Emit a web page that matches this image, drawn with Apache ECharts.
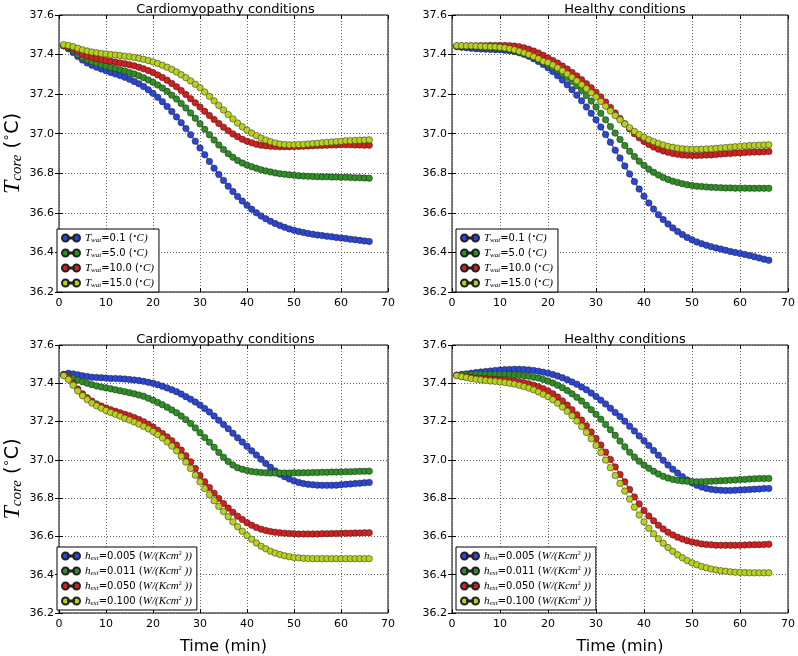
<!DOCTYPE html>
<html><head><meta charset="utf-8">
<script src="https://cdn.jsdelivr.net/npm/echarts@6/dist/echarts.min.js"></script>
<style>html,body{margin:0;padding:0;background:#fff}#c{width:798px;height:656px}</style>
</head><body><div id="c"></div>
<script>
// time (min)
const time = [1,2,3,4,5,6,7,8,9,10,11,12,13,14,15,16,17,18,19,20,21,22,23,24,25,26,27,28,29,30,31,32,33,34,35,36,37,38,39,40,41,42,43,44,45,46,47,48,49,50,51,52,53,54,55,56,57,58,59,60,61,62,63,64,65,66];

const titles = ['Cardiomyopathy conditions','Healthy conditions','Cardiomyopathy conditions','Healthy conditions'];
const twatLabels = ['0.1','5.0','10.0','15.0'];
const hextLabels = ['0.005','0.011','0.050','0.100'];
const xTicks = [0,10,20,30,40,50,60,70];
const yTicks = [36.2,36.4,36.6,36.8,37.0,37.2,37.4,37.6];

// Top-left: Cardiomyopathy, varying T_wat
const cardWat01 = [37.445,37.43,37.41,37.39,37.372,37.358,37.346,37.336,37.327,37.318,37.31,37.302,37.294,37.285,37.275,37.264,37.252,37.238,37.222,37.204,37.184,37.162,37.138,37.112,37.085,37.056,37.026,36.995,36.962,36.928,36.894,36.86,36.826,36.794,36.764,36.735,36.708,36.683,36.66,36.638,36.618,36.6,36.584,36.57,36.557,36.546,36.536,36.527,36.519,36.512,36.506,36.501,36.496,36.492,36.488,36.485,36.482,36.479,36.476,36.473,36.47,36.467,36.464,36.461,36.458,36.455];
const cardWat5 = [37.445,37.435,37.42,37.40,37.385,37.374,37.364,37.356,37.348,37.341,37.335,37.329,37.323,37.317,37.31,37.302,37.293,37.283,37.272,37.26,37.246,37.231,37.214,37.195,37.175,37.153,37.13,37.105,37.078,37.05,37.022,36.995,36.968,36.943,36.92,36.899,36.881,36.865,36.852,36.842,36.833,36.825,36.818,36.812,36.807,36.802,36.798,36.795,36.792,36.79,36.788,36.786,36.785,36.784,36.783,36.782,36.782,36.781,36.781,36.78,36.78,36.779,36.778,36.777,36.776,36.775];
const cardWat10 = [37.445,37.44,37.43,37.415,37.402,37.393,37.386,37.38,37.375,37.37,37.366,37.362,37.358,37.354,37.349,37.343,37.336,37.328,37.319,37.309,37.297,37.284,37.27,37.254,37.237,37.218,37.198,37.177,37.156,37.135,37.113,37.092,37.072,37.052,37.033,37.015,36.999,36.985,36.972,36.962,36.954,36.947,36.942,36.939,36.937,36.935,36.934,36.934,36.934,36.935,36.936,36.937,36.938,36.939,36.94,36.941,36.942,36.943,36.943,36.944,36.944,36.944,36.943,36.943,36.942,36.942];
const cardWat15 = [37.45,37.446,37.44,37.432,37.424,37.418,37.413,37.409,37.406,37.403,37.4,37.398,37.395,37.392,37.389,37.385,37.381,37.376,37.37,37.363,37.355,37.346,37.336,37.325,37.312,37.298,37.283,37.267,37.25,37.232,37.211,37.189,37.166,37.143,37.12,37.097,37.075,37.054,37.035,37.018,37.003,36.99,36.978,36.968,36.96,36.953,36.948,36.945,36.944,36.944,36.945,36.946,36.948,36.95,36.952,36.954,36.956,36.958,36.96,36.962,36.964,36.965,36.966,36.967,36.968,36.969];

// Top-right: Healthy, varying T_wat
const healWat01 = [37.44,37.437,37.435,37.432,37.43,37.428,37.427,37.426,37.425,37.424,37.422,37.419,37.415,37.409,37.401,37.391,37.379,37.365,37.35,37.333,37.314,37.293,37.271,37.247,37.222,37.195,37.166,37.135,37.103,37.07,37.034,36.996,36.957,36.917,36.877,36.837,36.797,36.758,36.72,36.684,36.65,36.619,36.591,36.566,36.544,36.524,36.506,36.49,36.476,36.464,36.453,36.444,36.436,36.429,36.423,36.417,36.411,36.405,36.4,36.395,36.39,36.384,36.378,36.372,36.366,36.36];
const healWat5 = [37.442,37.441,37.44,37.439,37.438,37.437,37.436,37.435,37.434,37.432,37.429,37.425,37.42,37.413,37.405,37.396,37.386,37.375,37.363,37.35,37.336,37.321,37.304,37.285,37.265,37.243,37.219,37.193,37.165,37.135,37.103,37.07,37.036,37.003,36.971,36.94,36.911,36.885,36.861,36.84,36.821,36.805,36.791,36.779,36.769,36.76,36.753,36.747,36.742,36.738,36.735,36.733,36.731,36.729,36.728,36.727,36.726,36.726,36.725,36.725,36.725,36.724,36.724,36.724,36.724,36.724];
const healWat10 = [37.442,37.443,37.443,37.444,37.444,37.445,37.445,37.446,37.446,37.446,37.446,37.445,37.443,37.439,37.434,37.427,37.418,37.408,37.396,37.383,37.37,37.357,37.342,37.327,37.31,37.292,37.273,37.253,37.232,37.21,37.186,37.16,37.133,37.105,37.077,37.05,37.024,37.0,36.979,36.961,36.946,36.933,36.922,36.913,36.906,36.9,36.896,36.893,36.891,36.89,36.89,36.891,36.892,36.893,36.895,36.897,36.899,36.9,36.902,36.903,36.905,36.906,36.907,36.908,36.909,36.91];
const healWat15 = [37.445,37.445,37.444,37.444,37.443,37.442,37.441,37.44,37.439,37.437,37.434,37.43,37.424,37.417,37.409,37.4,37.39,37.379,37.366,37.36,37.347,37.333,37.318,37.302,37.285,37.267,37.248,37.228,37.207,37.186,37.163,37.139,37.115,37.092,37.07,37.049,37.03,37.012,36.996,36.982,36.97,36.96,36.951,36.943,36.936,36.931,36.927,36.924,36.922,36.921,36.921,36.922,36.923,36.924,36.926,36.928,36.93,36.932,36.934,36.936,36.938,36.94,36.941,36.942,36.943,36.944];

// Bottom-left: Cardiomyopathy, varying h_ext
const cardH005 = [37.447,37.452,37.449,37.444,37.439,37.436,37.432,37.43,37.429,37.427,37.425,37.425,37.424,37.422,37.42,37.417,37.414,37.41,37.405,37.40,37.393,37.385,37.376,37.366,37.356,37.344,37.33,37.317,37.302,37.286,37.268,37.25,37.229,37.207,37.185,37.163,37.139,37.115,37.093,37.071,37.047,37.025,37.003,36.981,36.961,36.942,36.925,36.912,36.9,36.89,36.882,36.876,36.872,36.87,36.868,36.867,36.867,36.867,36.868,36.87,36.872,36.874,36.876,36.878,36.88,36.882];
const cardH011 = [37.444,37.437,37.427,37.417,37.408,37.40,37.393,37.386,37.381,37.376,37.371,37.366,37.361,37.356,37.351,37.345,37.339,37.332,37.322,37.311,37.3,37.288,37.275,37.261,37.246,37.229,37.21,37.19,37.167,37.142,37.117,37.092,37.066,37.039,37.014,36.992,36.973,36.959,36.951,36.944,36.939,36.936,36.934,36.932,36.931,36.931,36.931,36.931,36.931,36.932,36.932,36.933,36.933,36.934,36.934,36.935,36.935,36.936,36.936,36.937,36.938,36.938,36.939,36.94,36.94,36.941];
const cardH050 = [37.443,37.43,37.40,37.37,37.345,37.325,37.307,37.292,37.281,37.271,37.262,37.254,37.246,37.238,37.23,37.221,37.211,37.199,37.186,37.171,37.155,37.138,37.12,37.10,37.077,37.051,37.022,36.99,36.955,36.918,36.885,36.855,36.826,36.798,36.772,36.748,36.726,36.706,36.688,36.672,36.658,36.647,36.638,36.631,36.626,36.622,36.619,36.617,36.615,36.614,36.613,36.613,36.613,36.613,36.613,36.614,36.614,36.615,36.615,36.616,36.617,36.617,36.618,36.618,36.619,36.619];
const cardH100 = [37.44,37.42,37.39,37.36,37.335,37.315,37.297,37.282,37.27,37.258,37.248,37.238,37.228,37.218,37.208,37.198,37.187,37.175,37.162,37.148,37.132,37.114,37.094,37.072,37.047,37.019,36.988,36.955,36.92,36.885,36.85,36.817,36.786,36.757,36.73,36.703,36.676,36.651,36.627,36.605,36.585,36.566,36.549,36.535,36.523,36.513,36.505,36.499,36.494,36.49,36.488,36.486,36.485,36.484,36.484,36.484,36.484,36.484,36.484,36.484,36.484,36.484,36.484,36.484,36.484,36.484];

// Bottom-right: Healthy, varying h_ext
const healH005 = [37.442,37.446,37.449,37.453,37.456,37.459,37.462,37.464,37.467,37.469,37.471,37.472,37.473,37.473,37.472,37.47,37.467,37.463,37.458,37.453,37.446,37.438,37.429,37.419,37.407,37.395,37.381,37.366,37.349,37.331,37.312,37.292,37.27,37.248,37.226,37.202,37.176,37.151,37.125,37.10,37.075,37.049,37.024,36.998,36.973,36.951,36.931,36.912,36.895,36.88,36.867,36.858,36.851,36.846,36.843,36.841,36.84,36.84,36.841,36.842,36.844,36.845,36.847,36.848,36.85,36.851];
const healH011 = [37.442,37.445,37.446,37.446,37.447,37.447,37.447,37.447,37.447,37.447,37.447,37.446,37.445,37.443,37.44,37.437,37.432,37.427,37.42,37.412,37.402,37.39,37.377,37.362,37.345,37.327,37.307,37.285,37.262,37.238,37.212,37.185,37.157,37.128,37.098,37.068,37.04,37.015,36.993,36.973,36.956,36.94,36.926,36.914,36.905,36.898,36.893,36.89,36.888,36.887,36.886,36.886,36.887,36.888,36.889,36.891,36.892,36.894,36.895,36.897,36.898,36.9,36.901,36.902,36.902,36.903];
const healH050 = [37.442,37.437,37.434,37.431,37.427,37.425,37.424,37.422,37.42,37.419,37.417,37.415,37.412,37.408,37.403,37.397,37.39,37.382,37.372,37.36,37.345,37.328,37.308,37.286,37.262,37.236,37.208,37.178,37.146,37.112,37.077,37.04,37.002,36.963,36.924,36.885,36.845,36.806,36.77,36.736,36.707,36.682,36.659,36.639,36.622,36.608,36.596,36.586,36.578,36.571,36.566,36.561,36.558,36.556,36.554,36.554,36.554,36.554,36.554,36.554,36.555,36.556,36.557,36.557,36.558,36.559];
const healH100 = [37.44,37.435,37.43,37.425,37.421,37.418,37.415,37.412,37.41,37.407,37.404,37.40,37.396,37.39,37.383,37.375,37.366,37.355,37.343,37.33,37.314,37.296,37.276,37.254,37.23,37.203,37.174,37.143,37.11,37.075,37.038,36.999,36.959,36.918,36.877,36.837,36.795,36.753,36.712,36.676,36.643,36.614,36.588,36.564,36.542,36.522,36.504,36.488,36.474,36.462,36.452,36.443,36.436,36.43,36.425,36.421,36.418,36.415,36.413,36.412,36.411,36.41,36.41,36.41,36.41,36.41];

const colors = ['#2b46d6','#2f8f25','#d41f1f','#b9d01e'];

const panels = [
  {data:[cardWat01,cardWat5,cardWat10,cardWat15], labels:twatLabels, kind:'wat', grid:{left:53,top:15,width:335,height:277}, legend:{left:57,top:229}, ylab:true, xlab:false},
  {data:[healWat01,healWat5,healWat10,healWat15], labels:twatLabels, kind:'wat', grid:{left:452,top:15,width:336,height:277}, legend:{left:456,top:229}, ylab:false, xlab:false},
  {data:[cardH005,cardH011,cardH050,cardH100], labels:hextLabels, kind:'ext', grid:{left:53,top:345,width:335,height:275}, legend:{left:57,top:547}, ylab:true, xlab:true},
  {data:[healH005,healH011,healH050,healH100], labels:hextLabels, kind:'ext', grid:{left:452,top:345,width:336,height:275}, legend:{left:456,top:547}, ylab:false, xlab:true}
];

const mathRich = {
  i:{fontFamily:'Liberation Serif',fontStyle:'italic',fontSize:11,color:'#000'},
  s:{fontFamily:'Liberation Serif',fontStyle:'italic',fontSize:7,color:'#000',verticalAlign:'bottom',padding:[5,0,0,0]},
  n:{fontFamily:'DejaVu Sans',fontSize:10,color:'#000'},
  p:{fontFamily:'Liberation Serif',fontSize:6,color:'#000',verticalAlign:'top',padding:[0,0,5,0]}
};

function nameOf(kind, lab){ return kind + lab; }
function legendText(name){
  if (name.startsWith('wat')) { const v = name.slice(3); return '{i|T}{s|wat}{n|=' + v + ' (}{p|∘}{i|C)}'; }
  const v = name.slice(3); return '{i|h}{s|ext}{n|=' + v + ' (}{i|W/(Kcm}{p|2}{i| ))}';
}

const option = {animation:false, backgroundColor:'#fff', grid:[], xAxis:[], yAxis:[], series:[], legend:[], title:[]};
const legendIcon = 'path://M0,3.5a3.5,3.5 0 1,0 7,0a3.5,3.5 0 1,0 -7,0Z M11,3.5a3.5,3.5 0 1,0 7,0a3.5,3.5 0 1,0 -7,0Z M6,2.9H12V4.1H6Z';

panels.forEach((p, gi) => {
  option.grid.push(Object.assign({show:true, borderColor:'#000', borderWidth:1, backgroundColor:'#fff', containLabel:false}, p.grid));
  const axFont = {fontFamily:'DejaVu Sans', fontSize:11, color:'#000'};
  option.xAxis.push({type:'value', gridIndex:gi, min:0, max:70, interval:10, position:'bottom',
    axisLine:{show:false}, axisTick:{inside:true, length:4, lineStyle:{color:'#000'}},
    axisLabel:Object.assign({margin:6}, axFont),
    splitLine:{show:true, lineStyle:{color:'#444', type:[1,2], width:0.8}},
    name: p.xlab ? 'Time (min)' : '', nameLocation:'middle', nameGap:26,
    nameTextStyle:{fontFamily:'DejaVu Sans', fontSize:16, color:'#000'}});
  option.xAxis.push({type:'value', gridIndex:gi, min:0, max:70, interval:10, position:'top',
    axisLine:{show:false}, axisTick:{inside:true, length:4, lineStyle:{color:'#000'}}, axisLabel:{show:false}, splitLine:{show:false}});
  option.yAxis.push({type:'value', gridIndex:gi, min:36.2, max:37.6, interval:0.2, position:'left',
    axisLine:{show:false}, axisTick:{inside:true, length:4, lineStyle:{color:'#000'}},
    axisLabel:Object.assign({margin:5, formatter:v => v.toFixed(1)}, axFont),
    splitLine:{show:true, lineStyle:{color:'#444', type:[1,2], width:0.8}},
    name: p.ylab ? '{t|T}{c|core}{n| (}{d|∘}{n|C)}' : '', nameLocation:'middle', nameGap:34, nameRotate:90,
    nameTextStyle:{rich:{
      t:{fontFamily:'Liberation Serif', fontStyle:'italic', fontSize:24, color:'#000'},
      c:{fontFamily:'Liberation Serif', fontStyle:'italic', fontSize:15, color:'#000', verticalAlign:'bottom', padding:[8,0,0,0]},
      n:{fontFamily:'DejaVu Sans', fontSize:19, color:'#000'},
      d:{fontFamily:'DejaVu Sans', fontSize:12, color:'#000', verticalAlign:'top', padding:[0,0,8,0]}
    }}});
  option.yAxis.push({type:'value', gridIndex:gi, min:36.2, max:37.6, interval:0.2, position:'right',
    axisLine:{show:false}, axisTick:{inside:true, length:4, lineStyle:{color:'#000'}}, axisLabel:{show:false}, splitLine:{show:false}});

  const names = p.labels.map(l => nameOf(p.kind, l));
  p.data.forEach((arr, si) => {
    option.series.push({type:'line', name:names[si], xAxisIndex:gi*2, yAxisIndex:gi*2,
      data: time.map((tv, k) => [tv, arr[k]]),
      symbol:'circle', symbolSize:6.5, showAllSymbol:true,
      lineStyle:{color:colors[si], width:1.2},
      itemStyle:{color:colors[si], borderColor:'#222', borderWidth:0.5},
      emphasis:{disabled:true}, z:2+si});
  });
  option.legend.push({orient:'vertical', left:p.legend.left, top:p.legend.top, data:names.map((n,si)=>({name:n, icon:legendIcon, itemStyle:{color:colors[si]}})),
    itemWidth:18, itemHeight:7, itemGap:3, padding:[3,5,3,4], borderColor:'#000', borderWidth:1, backgroundColor:'#fff',
    formatter:legendText, selectedMode:false,
    textStyle:{fontFamily:'DejaVu Sans', fontSize:10, color:'#000', rich:mathRich}});
  option.title.push({text:titles[gi], left:p.grid.left + p.grid.width/2, top:p.grid.top - 17, textAlign:'center',
    textStyle:{fontFamily:'DejaVu Sans', fontSize:13, fontWeight:'normal', color:'#000'}});
});

const chart = echarts.init(document.getElementById('c'), null, {renderer:'canvas'});
chart.setOption(option);
</script>
</body></html>
